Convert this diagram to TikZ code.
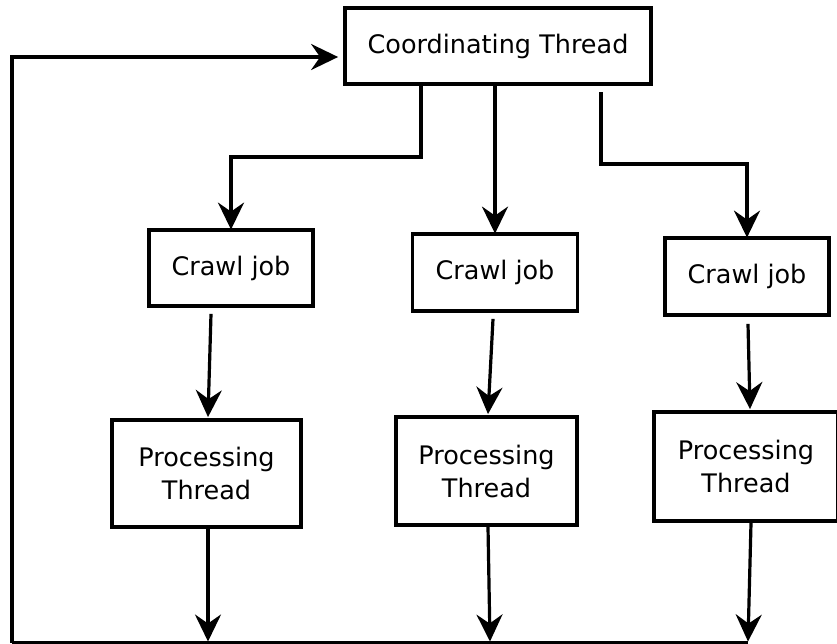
\documentclass[tikz,border=0pt]{standalone}
\usepackage{fontspec}
\setmainfont{DejaVu Sans}
\usetikzlibrary{arrows.meta}
\begin{document}
\begin{tikzpicture}[x=1pt,y=-1pt,
  box/.style={draw=black,line width=3.8pt,fill=white,inner sep=0pt,
    font=\fontsize{25.5}{33}\selectfont,align=center},
  flow/.style={line width=3.2pt,-{Stealth[length=27pt,width=26pt,inset=9pt]}},
  plain/.style={line width=3.2pt}]
  \useasboundingbox (0,0) rectangle (837,643);

  % thread boxes
  \node[box,minimum width=306pt,minimum height=76pt] (coord) at (498,46) {Coordinating Thread};
  \node[box,minimum width=164pt,minimum height=76pt] (c1) at (231,268) {Crawl job};
  \node[box,minimum width=165pt,minimum height=77pt] (c2) at (495,272.5) {Crawl job};
  \node[box,minimum width=164pt,minimum height=77pt] (c3) at (747,276.5) {Crawl job};
  \node[box,minimum width=189pt,minimum height=107pt] (p1) at (206.5,473.5) {Processing\\Thread};
  \node[box,minimum width=181pt,minimum height=108pt] (p2) at (486.5,471) {Processing\\Thread};
  \node[box,minimum width=184pt,minimum height=109pt] (p3) at (746,466.5) {Processing\\Thread};

  % free ends of the connectors
  \coordinate (r0) at (601,92);
  \coordinate (b1) at (208,641.5);
  \coordinate (b2) at (490,641.5);
  \coordinate (b3) at (748,641.5);
  \coordinate (b3e) at (748,642.8);
  \coordinate (corner) at (12,642.8);

  % coordinating thread dispatches crawl jobs
  \draw[flow] (coord.south -| 421,0) -- (421,157) -| ([yshift=-1.5pt]c1.north);
  \draw[flow] (coord.south -| c2.north) -- ([yshift=-1.5pt]c2.north);
  \draw[flow] (r0) -- (601,164) -| ([yshift=-1.5pt]c3.north);

  % crawl jobs feed processing threads
  \draw[flow] ([xshift=-20pt,yshift=-6pt]c1.south) -- ([xshift=1.5pt,yshift=1pt]p1.north);
  \draw[flow] ([xshift=-2pt,yshift=-6pt]c2.south) -- ([xshift=1.5pt,yshift=1pt]p2.north);
  \draw[flow] ([xshift=1pt,yshift=-7pt]c3.south) -- ([xshift=4pt,yshift=1pt]p3.north);

  % processing threads report back
  \draw[flow] ([xshift=1.5pt]p1.south) -- (b1);
  \draw[flow] ([xshift=1.5pt]p2.south) -- (b2);
  \draw[flow] ([xshift=5pt]p3.south) -- (b3);

  % return path to the coordinating thread
  \draw[plain] (b3e) -- (corner);
  \draw[flow,shorten >=5pt] (corner) -- (12,57) -- ([yshift=-11pt]coord.west);
\end{tikzpicture}
\end{document}
